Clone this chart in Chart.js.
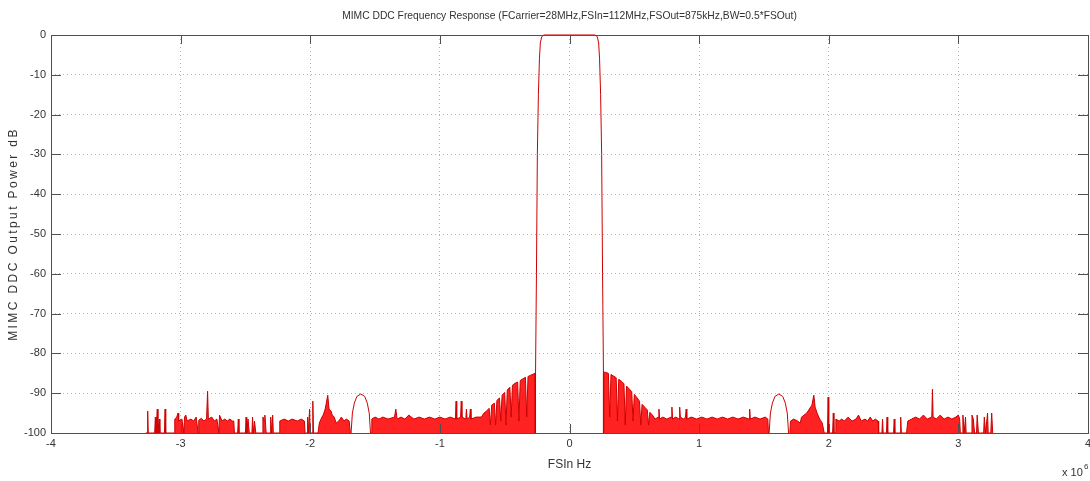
<!DOCTYPE html>
<html>
<head>
<meta charset="utf-8">
<script src="https://cdn.jsdelivr.net/npm/chart.js"></script>
<style>
  html, body { margin: 0; padding: 0; background: #fff; }
  #wrap { width: 1090px; height: 481px; }
</style>
</head>
<body>
<div id="wrap"><canvas id="ddcChart"></canvas></div>
<script>
// frequency in units of 1e6 Hz, power in dB

var chartTitle = 'MIMC DDC Frequency Response (FCarrier=28MHz,FSIn=112MHz,FSOut=875kHz,BW=0.5*FSOut)';
var xTicks = [-4, -3, -2, -1, 0, 1, 2, 3, 4];
var yTicks = [0, -10, -20, -30, -40, -50, -60, -70, -80, -90, -100];

// noise floor left of the -1.6 lobe
var leftNoiseA = [
    [-3.27,-100],[-3.258,-100],[-3.254,-94.5],[-3.25,-100],
    [-3.2,-100],[-3.195,-96],[-3.19,-100],[-3.18,-94],[-3.175,-100],[-3.165,-96.5],[-3.16,-100],
    [-3.125,-100],[-3.12,-94],[-3.115,-100],
    [-3.05,-100],[-3.045,-96.5],[-3.03,-96],[-3.02,-95],[-3.015,-97],[-2.99,-96.5],[-2.975,-100],[-2.97,-96],
    [-2.96,-95.5],[-2.95,-97],[-2.92,-96.5],[-2.9,-97],[-2.88,-96],[-2.865,-100],[-2.86,-96.8],[-2.84,-96.3],
    [-2.82,-97],[-2.8,-96.5],[-2.792,-89.5],[-2.786,-96.5],[-2.76,-96],[-2.74,-97],[-2.72,-96.5],[-2.705,-100],
    [-2.7,-95.5],[-2.68,-97],[-2.66,-96.5],[-2.64,-97],[-2.62,-96.5],[-2.6,-97],[-2.59,-97],[-2.585,-100],
    [-2.56,-100],[-2.555,-96.5],[-2.55,-100],[-2.5,-100],[-2.495,-96],[-2.49,-100],[-2.48,-96.5],[-2.47,-100],
    [-2.45,-100],[-2.445,-96],[-2.44,-100],[-2.43,-97],[-2.42,-100],[-2.37,-100],[-2.365,-96],[-2.355,-97],
    [-2.35,-95.5],[-2.34,-100],[-2.31,-100],[-2.305,-96],[-2.3,-100],[-2.29,-95.5],[-2.285,-100],
    [-2.24,-100],[-2.235,-97],[-2.2,-96.5],[-2.17,-97],[-2.14,-96.5],[-2.1,-97],[-2.07,-96.5],[-2.045,-97],[-2.04,-100],
    [-2.025,-100],[-2.02,-96],[-2.015,-100],[-2.005,-94],[-2.0,-100],[-1.985,-100],[-1.98,-92],[-1.975,-100],
    [-1.94,-100],[-1.93,-97.5],[-1.91,-96],[-1.9,-95.5],[-1.885,-94],[-1.865,-90.5],[-1.855,-94],[-1.84,-94.5],
    [-1.83,-95.5],[-1.815,-96],[-1.8,-97.5],[-1.78,-97],[-1.76,-96],[-1.74,-97],[-1.72,-96.5],[-1.7,-97],[-1.69,-100]
];

var leftHump = [
    [-1.685,-100],[-1.675,-95],[-1.66,-92.5],[-1.64,-90.8],[-1.61,-90.2],[-1.58,-90.8],[-1.56,-92.5],[-1.545,-95],[-1.535,-100]
];

// noise floor and transition lobe up to the passband
var leftNoiseB = [
    [-1.53,-100],[-1.525,-96.5],[-1.5,-96],[-1.47,-96.5],[-1.44,-96],[-1.4,-96.5],[-1.35,-96],[-1.34,-94],[-1.33,-96.5],
    [-1.3,-96],[-1.27,-96.5],[-1.24,-95.5],[-1.2,-96.5],[-1.16,-96],[-1.12,-96.5],[-1.08,-96],[-1.04,-96.5],
    [-1.0,-96],[-0.96,-96.5],[-0.92,-96],[-0.88,-96.5],[-0.875,-92],[-0.87,-96.5],[-0.84,-96],[-0.835,-92],[-0.83,-96],
    [-0.8,-96.5],[-0.795,-94],[-0.79,-96.5],[-0.77,-96],[-0.765,-94],[-0.76,-96.5],[-0.72,-96],[-0.68,-96],
    [-0.66,-95],[-0.64,-94.5],[-0.62,-93.8],[-0.61,-98],[-0.6,-93],[-0.58,-92.5],[-0.57,-98],[-0.56,-91.8],
    [-0.54,-91.2],[-0.53,-97],[-0.52,-90.5],[-0.5,-89.8],[-0.49,-98],[-0.48,-89.2],[-0.46,-88.5],[-0.45,-96],
    [-0.44,-88],[-0.42,-87.5],[-0.4,-87.2],[-0.39,-97],[-0.38,-86.8],[-0.36,-86.4],[-0.34,-86],[-0.33,-96],
    [-0.32,-85.8],[-0.3,-85.5],[-0.28,-85.2],[-0.265,-85],[-0.264,-100]
];

var passband = [
    [-0.262,-100],[-0.262,-85],[-0.255,-60],[-0.248,-30],[-0.24,-15],[-0.232,-6],[-0.225,-2],[-0.215,-0.5],[-0.2,0],
    [0.2,0],[0.215,-0.5],[0.225,-2],[0.232,-6],[0.24,-15],[0.248,-30],[0.255,-60],[0.262,-85],[0.262,-100]
];

var rightNoiseA = [
    [0.264,-100],[0.265,-84.7],[0.28,-84.8],[0.3,-85],[0.31,-96],[0.32,-85.3],[0.34,-85.7],[0.36,-86.1],[0.37,-97],
    [0.38,-86.5],[0.4,-87],[0.42,-87.6],[0.43,-98],[0.44,-88.2],[0.46,-88.9],[0.48,-89.6],[0.49,-97],[0.5,-90.3],
    [0.52,-91.1],[0.54,-92],[0.55,-98],[0.56,-92.8],[0.58,-93.5],[0.6,-94.2],[0.61,-98],[0.62,-94.8],[0.64,-95.5],[0.66,-96.5],
    [0.685,-96],[0.69,-94],[0.695,-96.5],[0.72,-96],[0.75,-96.5],[0.785,-96],[0.79,-93.5],[0.795,-96.5],[0.82,-96],
    [0.845,-96.5],[0.85,-93.5],[0.855,-96],[0.88,-96.5],[0.895,-96],[0.9,-94],[0.905,-96.5],[0.94,-96],[0.98,-96.5],
    [1.02,-96],[1.06,-96.5],[1.1,-96],[1.14,-96.5],[1.18,-96],[1.22,-96.5],[1.26,-96],[1.3,-96.5],[1.34,-96],
    [1.385,-96.5],[1.39,-94],[1.395,-96.5],[1.43,-96],[1.47,-96.5],[1.51,-96],[1.53,-96.5],[1.535,-100]
];

var rightHump = [
    [1.54,-100],[1.55,-95],[1.565,-92.5],[1.585,-90.8],[1.615,-90.2],[1.645,-90.8],[1.665,-92.5],[1.68,-95],[1.69,-100]
];

var rightNoiseB = [
    [1.7,-100],[1.705,-97],[1.73,-96.5],[1.76,-97],[1.78,-97.5],[1.79,-96],[1.81,-95.5],[1.83,-95],[1.85,-94],
    [1.87,-93],[1.885,-90.5],[1.895,-93.5],[1.91,-95],[1.93,-96.5],[1.95,-97.5],[1.965,-100],
    [1.99,-100],[1.995,-91],[2.0,-100],[2.03,-100],[2.035,-95],[2.04,-100],
    [2.05,-100],[2.055,-96.5],[2.08,-97],[2.1,-96.5],[2.12,-97],[2.15,-96],[2.18,-97],[2.21,-96.5],[2.23,-95.5],
    [2.25,-97],[2.28,-96.5],[2.3,-97],[2.32,-96],[2.34,-97],[2.36,-96.5],[2.38,-97],[2.385,-100],
    [2.41,-100],[2.415,-96.5],[2.42,-100],[2.445,-100],[2.45,-96],[2.455,-100],[2.5,-100],[2.505,-96.5],[2.51,-100],
    [2.55,-100],[2.555,-96],[2.56,-100],[2.6,-100],
    [2.61,-97],[2.64,-96.5],[2.67,-96],[2.7,-96.5],[2.73,-95.5],[2.76,-96.5],[2.795,-96],[2.8,-89],[2.805,-96],
    [2.83,-96.5],[2.86,-95.5],[2.89,-96.5],[2.92,-96],[2.95,-96.5],[2.98,-96],[3.0,-95.5],[3.01,-96.5],[3.015,-100],
    [3.03,-100],[3.035,-95.5],[3.045,-100],[3.055,-96],[3.06,-100],
    [3.1,-100],[3.105,-95.5],[3.115,-96.5],[3.125,-100],[3.14,-100],[3.145,-95.5],[3.155,-100],
    [3.195,-100],[3.2,-96],[3.21,-100],[3.225,-95],[3.23,-100],
    [3.25,-100],[3.257,-95],[3.265,-100]
];

var lineRed = 'rgb(205,0,0)';
var fillRed = 'rgba(255,10,10,0.9)';
var frameColor = '#505050';
var textColor = '#333';
var fontFamily = "'Liberation Sans', Arial, sans-serif";

function toXY(pts) {
    return pts.map(p => ({ x: p[0], y: p[1] }));
}

function makeSet(pts, filled) {
    return {
        data: toXY(pts),
        showLine: true,
        borderColor: lineRed,
        borderWidth: 1,
        backgroundColor: filled ? fillRed : 'transparent',
        fill: filled ? 'start' : false,
        pointRadius: 0,
        tension: 0,
        clip: 3
    };
}

// box round the plot, inward ticks, titles and exponent label
var framePlugin = {
    id: 'frame',
    afterDraw(chart) {
        var ctx = chart.ctx;
        var a = chart.chartArea;
        var xs = chart.scales.x, ys = chart.scales.y;
        ctx.save();
        ctx.strokeStyle = frameColor;
        ctx.lineWidth = 1;
        ctx.strokeRect(Math.round(a.left) + 0.5, Math.round(a.top) + 0.5,
                       Math.round(a.right - a.left), Math.round(a.bottom - a.top));
        ctx.beginPath();
        xTicks.forEach(v => {
            var px = Math.round(xs.getPixelForValue(v)) + 0.5;
            ctx.moveTo(px, a.bottom); ctx.lineTo(px, a.bottom - 9);
            ctx.moveTo(px, a.top); ctx.lineTo(px, a.top + 9);
        });
        yTicks.forEach(v => {
            var py = Math.round(ys.getPixelForValue(v)) + 0.5;
            ctx.moveTo(a.left, py); ctx.lineTo(a.left + 10, py);
            ctx.moveTo(a.right, py); ctx.lineTo(a.right - 10, py);
        });
        ctx.stroke();

        // chart title, centred over the plot area
        ctx.fillStyle = textColor;
        ctx.font = '10.3px ' + fontFamily;
        ctx.textAlign = 'center';
        ctx.textBaseline = 'middle';
        ctx.fillText(chartTitle, (a.left + a.right) / 2, 16);

        ctx.translate(14, (a.top + a.bottom) / 2);
        ctx.rotate(-Math.PI / 2);
        ctx.font = '12px ' + fontFamily;
        ctx.letterSpacing = '2.4px';
        ctx.fillText('MIMC DDC Output Power dB', 0, 0);
        ctx.restore();

        ctx.save();
        ctx.fillStyle = textColor;
        ctx.font = '11px ' + fontFamily;
        ctx.textBaseline = 'alphabetic';
        ctx.fillText('x 10', 1062, 476);
        ctx.font = '8px ' + fontFamily;
        ctx.fillText('6', 1084, 469);
        ctx.restore();
    }
};

new Chart(document.getElementById('ddcChart').getContext('2d'), {
    type: 'scatter',
    data: {
        datasets: [
            makeSet(leftNoiseA, true),
            makeSet(leftHump, false),
            makeSet(leftNoiseB, true),
            makeSet(passband, false),
            makeSet(rightNoiseA, true),
            makeSet(rightHump, false),
            makeSet(rightNoiseB, true)
        ]
    },
    options: {
        responsive: true,
        maintainAspectRatio: false,
        animation: false,
        layout: { padding: { left: 0, right: 2, top: 35, bottom: 0 } },
        plugins: {
            legend: { display: false },
            tooltip: { enabled: false },
            title: { display: false }
        },
        scales: {
            x: {
                type: 'linear',
                min: -4,
                max: 4,
                afterBuildTicks: s => { s.ticks = xTicks.map(v => ({ value: v })); },
                afterFit: s => { s.height = 48; s.paddingRight = 0; },
                ticks: {
                    color: textColor,
                    padding: 4,
                    font: { family: fontFamily, size: 11 }
                },
                grid: { color: '#b4b4b4', drawTicks: false, lineWidth: 1 },
                border: { display: false, dash: [1, 3] },
                title: {
                    display: true,
                    text: 'FSIn Hz',
                    color: textColor,
                    font: { family: fontFamily, size: 12 },
                    padding: { top: 0, bottom: 9 }
                }
            },
            y: {
                type: 'linear',
                min: -100,
                max: 0,
                afterBuildTicks: s => { s.ticks = yTicks.map(v => ({ value: v })); },
                afterFit: s => { s.width = 51; },
                ticks: {
                    color: textColor,
                    padding: 5,
                    font: { family: fontFamily, size: 11 }
                },
                grid: { color: '#b4b4b4', drawTicks: false, lineWidth: 1 },
                border: { display: false, dash: [1, 3] }
            }
        }
    },
    plugins: [framePlugin]
});
</script>
</body>
</html>
